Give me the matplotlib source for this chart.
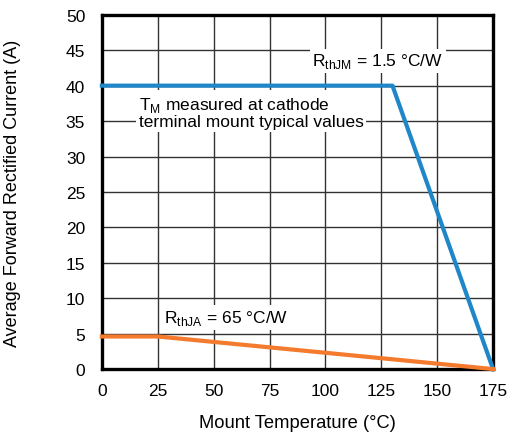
import matplotlib
matplotlib.use('Agg')
import matplotlib.pyplot as plt

plt.rcParams['font.family'] = ['Liberation Sans', 'DejaVu Sans']

# data
temp_jm = [0, 130, 175]
current_jm = [40, 40, 0]
temp_ja = [0, 25, 175]
current_ja = [4.6, 4.6, 0]

fig = plt.figure(figsize=(5.12, 4.39), dpi=100)
ax = fig.add_axes([0.199, 0.157, 0.764, 0.807])

ax.set_xlim(0, 175)
ax.set_ylim(0, 50)
ax.set_xticks(range(0, 176, 25))
ax.set_yticks(range(0, 51, 5))
ax.grid(True, color='#333333', linewidth=1.0)
ax.set_axisbelow(True)
ax.tick_params(length=0, labelsize=12.5)
ax.tick_params(axis='y', pad=12)
ax.tick_params(axis='x', pad=10)
for s in ax.spines.values():
    s.set_linewidth(2.4)
    s.set_color('black')

ax.plot(temp_jm, current_jm, color='#1f86c8', linewidth=3, clip_on=False, zorder=3)
ax.plot(temp_ja, current_ja, color='#f47a2d', linewidth=3, clip_on=False, zorder=3)

box = dict(facecolor='white', edgecolor='none', pad=2)
ax.text(123.5, 43.5, r'R$_{\mathregular{thJM}}$ = 1.5 °C/W', ha='center', va='center',
        fontsize=12.5, bbox=box, zorder=4)
ax.text(16.5, 36.3, 'T$_{\\mathregular{M}}$ measured at cathode\nterminal mount typical values',
        ha='left', va='center', fontsize=12.5, bbox=box, zorder=4, linespacing=1.05)
ax.text(28, 7.3, r'R$_{\mathregular{thJA}}$ = 65 °C/W', ha='left', va='center',
        fontsize=12.5, bbox=box, zorder=4)

ax.set_xlabel('Mount Temperature (°C)', fontsize=13.2)
ax.xaxis.set_label_coords(0.5, -0.128)
ax.set_ylabel('Average Forward Rectified Current (A)', fontsize=13)
ax.yaxis.set_label_coords(-0.208, 0.5)

fig.savefig('out.png', dpi=100)
